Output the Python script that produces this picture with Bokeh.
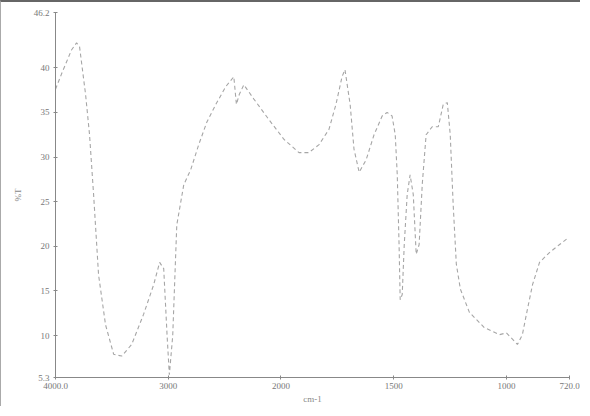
from bokeh.plotting import figure
from bokeh.models import FixedTicker, Range1d
from bokeh.embed import file_html
from bokeh.resources import INLINE

# IR spectrum: wavenumber (cm-1) and %T
wavenumber = [4000, 3947, 3858, 3813, 3787, 3733, 3698, 3662, 3618, 3556, 3484, 3413,
              3324, 3218, 3129, 3076, 3040, 3010, 2990, 2960, 2924, 2862, 2800, 2729,
              2658, 2578, 2489, 2418, 2395, 2370, 2329, 2240, 2107, 1987, 1920, 1876,
              1831, 1787, 1756, 1729, 1716, 1693, 1676, 1653, 1622, 1587, 1551, 1529,
              1507, 1493, 1484, 1476, 1471, 1462, 1453, 1440, 1427, 1413, 1400, 1387,
              1373, 1356, 1329, 1302, 1280, 1262, 1249, 1236, 1222, 1204, 1164, 1098,
              1031, 1000, 973, 951, 929, 907, 884, 853, 809, 764, 733]
transmittance = [37.6, 39.3, 42.0, 42.8, 42.4, 37.0, 32.5, 25.8, 16.8, 11.2, 7.9, 7.7,
                 9.0, 12.4, 15.7, 18.2, 17.5, 10.0, 5.6, 10.0, 22.4, 26.9, 28.6, 31.4,
                 33.9, 35.9, 37.9, 39.0, 35.9, 37.0, 38.1, 36.5, 34.2, 32.0, 30.5, 30.5,
                 31.4, 33.1, 35.9, 39.0, 39.8, 35.9, 30.9, 28.3, 29.7, 32.5, 34.6, 35.0,
                 34.6, 32.5, 28.0, 20.2, 14.0, 14.6, 20.2, 25.8, 28.0, 25.8, 19.1, 20.2,
                 27.0, 32.5, 33.4, 33.4, 35.9, 36.1, 32.5, 24.7, 18.0, 15.2, 12.6, 10.9,
                 10.1, 10.3, 9.6, 9.0, 10.1, 12.9, 15.7, 18.2, 19.3, 20.2, 20.8]

x_ticks = [4000, 3000, 2000, 1500, 1000, 720]
x_tick_labels = ["4000.0", "3000", "2000", "1500", "1000", "720.0"]
y_ticks = [5.3, 10, 15, 20, 25, 30, 35, 40, 46.2]
y_tick_labels = ["5.3", "10", "15", "20", "25", "30", "35", "40", "46.2"]


def to_pos(w):
    # scale doubles below 2000 cm-1 (standard IR chart paper)
    return 4000 - w if w >= 2000 else 2000 + 2 * (2000 - w)


xs = [to_pos(w) for w in wavenumber]

p = figure(width=580, height=406, output_backend="svg", toolbar_location=None,
           x_range=Range1d(to_pos(4000), to_pos(720)), y_range=Range1d(5.3, 46.2),
           min_border_left=54, min_border_top=10, min_border_right=12, min_border_bottom=31)
p.styles = {"border-top": "2px solid #666666", "border-left": "1px solid #aaaaaa"}
p.outline_line_color = None
p.grid.visible = False

p.line(xs, transmittance, line_color="#a6a6a6", line_width=1.1, line_dash="4 3")

for ax in (p.xaxis[0], p.yaxis[0]):
    ax.axis_line_color = "#888888"
    ax.major_tick_line_color = "#888888"
    ax.major_tick_in = 2
    ax.major_tick_out = 2
    ax.minor_tick_line_color = None
    ax.major_label_text_font = "Liberation Serif"
    ax.major_label_text_font_size = "9px"
    ax.major_label_text_color = "#777777"
    ax.axis_label_text_font = "Liberation Serif"
    ax.axis_label_text_font_size = "9px"
    ax.axis_label_text_color = "#888888"
    ax.axis_label_text_font_style = "normal"

p.xaxis.ticker = FixedTicker(ticks=[to_pos(w) for w in x_ticks])
p.xaxis.major_label_overrides = {to_pos(w): lab for w, lab in zip(x_ticks, x_tick_labels)}
p.xaxis.axis_label = "cm-1"
p.xaxis.axis_label_standoff = 2
p.xaxis.major_label_standoff = 3

p.yaxis.ticker = FixedTicker(ticks=y_ticks)
p.yaxis.major_label_overrides = {t: lab for t, lab in zip(y_ticks, y_tick_labels)}
p.yaxis.axis_label = "%T"
p.yaxis.axis_label_standoff = 8
p.yaxis.major_label_standoff = 4

open("out.html", "w").write(file_html(p, INLINE))
